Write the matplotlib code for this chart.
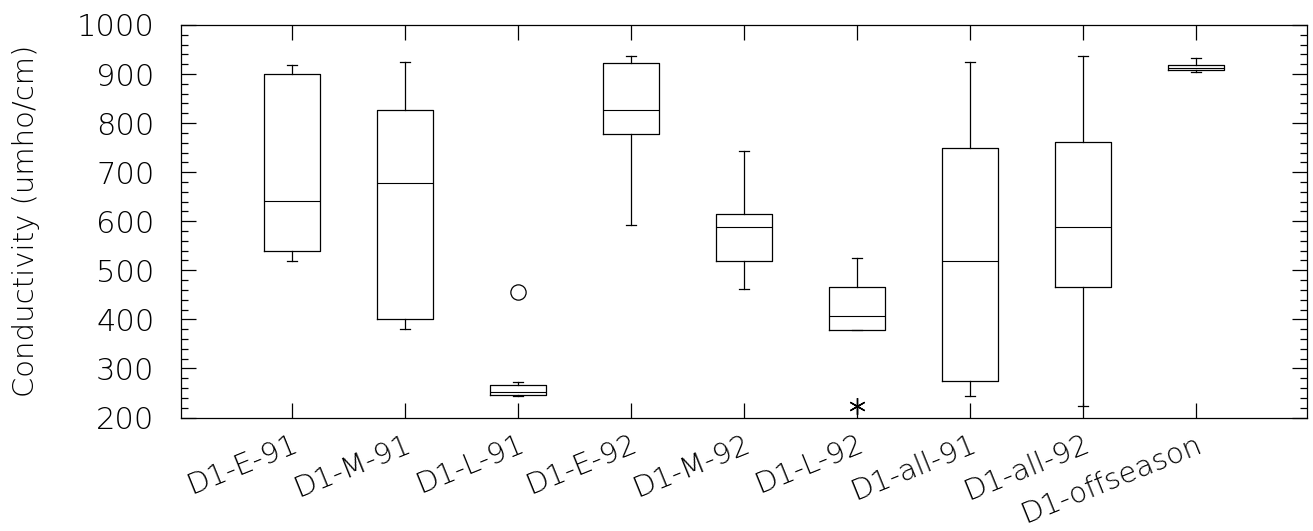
import numpy as np
import matplotlib
matplotlib.use('Agg')
import matplotlib.pyplot as plt
from matplotlib.ticker import MultipleLocator
import matplotlib.transforms as mtransforms

# 箱线图数据
categories = ['D1-E-91', 'D1-M-91', 'D1-L-91', 'D1-E-92', 'D1-M-92',
              'D1-L-92', 'D1-all-91', 'D1-all-92', 'D1-offseason']
whisker_low = [518, 380, 244, 592, 462, 378, 244, 224, 905]
q1 = [539, 400, 246, 777, 519, 378, 275, 466, 908]
median = [641, 678, 251, 827, 588, 407, 519, 588, 912]
q3 = [900, 827, 266, 923, 615, 466, 749, 762, 918]
whisker_high = [919, 924, 273, 937, 743, 526, 924, 937, 932]

# 离群点：圆圈（far outside）与星号（outside）
circle_cat = [3]
circle_val = [456]
star_cat = [6]
star_val = [223]

plt.rcParams['font.family'] = ['DejaVu Sans']
plt.rcParams['font.weight'] = 'light'
plt.rcParams['axes.labelweight'] = 'light'

fig = plt.figure(figsize=(13.13, 5.31), dpi=100)
ax = fig.add_axes([181 / 1313, 1 - 417.5 / 531, 1126 / 1313, 392.5 / 531])

positions = np.arange(1, len(categories) + 1)
stats = []
for i, name in enumerate(categories):
    stats.append({'label': name, 'whislo': whisker_low[i], 'q1': q1[i],
                  'med': median[i], 'q3': q3[i], 'whishi': whisker_high[i],
                  'fliers': []})

lp = dict(color='black', linewidth=0.9)
ax.bxp(stats, positions=positions, widths=0.5, showfliers=False,
       boxprops=lp, whiskerprops=lp, capprops=lp,
       medianprops=dict(color='black', linewidth=0.8),
       capwidths=0.09, manage_ticks=False)

ax.plot(circle_cat, circle_val, linestyle='none', marker='o', markersize=11,
        markerfacecolor='white', markeredgecolor='black', markeredgewidth=0.9)
ax.plot(star_cat, star_val, linestyle='none', marker=(6, 2, 0), markersize=12,
        color='black', markeredgewidth=1.0)

ax.set_xlim(0.02, 9.98)
ax.set_ylim(200, 1000)

ax.set_xticks(positions)
ax.set_xticklabels(categories, fontsize=21, rotation=22, ha='right', va='top',
                   rotation_mode='anchor')
offset = mtransforms.ScaledTranslation(-5 / 72, 0, fig.dpi_scale_trans)
for lbl in ax.get_xticklabels():
    lbl.set_transform(lbl.get_transform() + offset)
ax.tick_params(axis='x', which='major', direction='in', length=11, width=0.9,
               top=True, bottom=True, pad=9)

ax.yaxis.set_major_locator(MultipleLocator(100))
ax.yaxis.set_minor_locator(MultipleLocator(20))
ax.tick_params(axis='y', which='major', direction='in', length=11, width=0.9,
               left=True, right=True, labelsize=22, pad=19)
ax.tick_params(axis='y', which='minor', direction='in', length=5, width=0.9,
               left=True, right=True)

ax.set_ylabel('Conductivity (umho/cm)', fontsize=21, fontweight='light')
ax.yaxis.set_label_coords(-0.125, 0.5)

for sp in ax.spines.values():
    sp.set_linewidth(0.9)

fig.savefig('out.png', dpi=100)
